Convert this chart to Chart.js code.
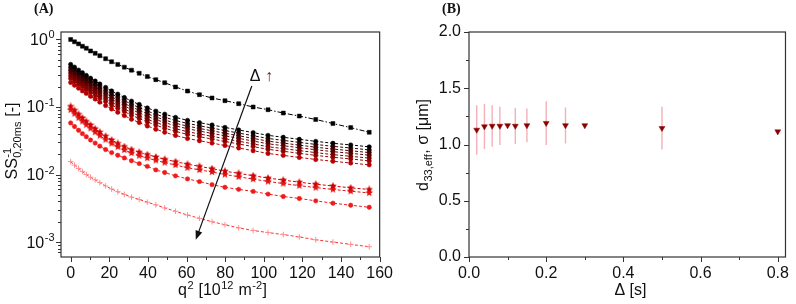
<!DOCTYPE html>
<html>
<head>
<meta charset="utf-8">
<script src="https://cdn.jsdelivr.net/npm/chart.js@4.4.0/dist/chart.umd.min.js"></script>
<style>
  body { margin: 0; background: #fff; }
  #wrap { position: relative; width: 796px; height: 304px; overflow: hidden; }
  canvas { position: absolute; top: 0; }
  #chartA { left: 0; }
  #chartB { left: 400px; }
  .tag { position: absolute; top: 1px; font: bold 14px "Liberation Serif", serif; color: #111; }
</style>
</head>
<body>
<div id="wrap">
  <canvas id="chartA" width="400" height="304"></canvas>
  <canvas id="chartB" width="396" height="304"></canvas>
  <div class="tag" style="left:34px">(A)</div>
  <div class="tag" style="left:442px">(B)</div>
</div>
<script>
// ---- panel A data: q^2 [10^12 m^-2] and normalised signal for each Delta
const qSq = [0, 2, 4.1, 6.1, 8.1, 10.3, 12.7, 15.1, 18.1, 21.2, 24.4, 27.8, 31.5, 35.5, 39.7, 44.1,
  48.7, 54.3, 60.5, 66.7, 73.2, 79.9, 87, 94.5, 102.2, 110.1, 118.4, 126.9, 135.8, 145, 154.6];

const sigRef = [1.0, 0.923, 0.861, 0.794, 0.741, 0.676, 0.624, 0.575, 0.519, 0.468, 0.427, 0.389, 0.351, 0.316, 0.282, 0.254,
  0.229, 0.198, 0.172, 0.152, 0.136, 0.124, 0.112, 0.100, 0.0912, 0.0813, 0.0733, 0.0653, 0.0569, 0.0495, 0.0422];
const grp1 = [0.427, 0.389, 0.352, 0.321, 0.294, 0.267, 0.242, 0.219, 0.195, 0.173, 0.155, 0.138, 0.122, 0.109, 0.0968, 0.0869,
  0.0783, 0.0701, 0.0634, 0.0586, 0.0541, 0.0498, 0.0457, 0.0417, 0.0380, 0.0356, 0.0332, 0.0310, 0.0290, 0.0274, 0.0257];
const grp2 = [0.384, 0.350, 0.317, 0.289, 0.265, 0.240, 0.218, 0.197, 0.176, 0.156, 0.140, 0.124, 0.110, 0.098, 0.0871, 0.0782,
  0.0705, 0.0631, 0.0571, 0.0527, 0.0487, 0.0448, 0.0411, 0.0375, 0.0342, 0.0320, 0.0299, 0.0279, 0.0261, 0.0247, 0.0231];
const grp3 = [0.350, 0.319, 0.289, 0.263, 0.241, 0.219, 0.198, 0.180, 0.160, 0.142, 0.127, 0.113, 0.100, 0.0894, 0.0794, 0.0713,
  0.0642, 0.0575, 0.0520, 0.0481, 0.0444, 0.0408, 0.0375, 0.0342, 0.0312, 0.0292, 0.0272, 0.0254, 0.0238, 0.0225, 0.0211];
const grp4 = [0.320, 0.292, 0.264, 0.241, 0.221, 0.200, 0.182, 0.164, 0.146, 0.130, 0.116, 0.104, 0.0915, 0.0818, 0.0726, 0.0652,
  0.0587, 0.0526, 0.0476, 0.0440, 0.0406, 0.0374, 0.0343, 0.0313, 0.0285, 0.0267, 0.0249, 0.0233, 0.0218, 0.0206, 0.0193];
const grp5 = [0.290, 0.265, 0.239, 0.218, 0.200, 0.182, 0.165, 0.149, 0.133, 0.118, 0.105, 0.0938, 0.0830, 0.0741, 0.0658, 0.0591,
  0.0532, 0.0477, 0.0431, 0.0398, 0.0368, 0.0339, 0.0311, 0.0284, 0.0258, 0.0242, 0.0226, 0.0211, 0.0197, 0.0186, 0.0175];
const grp6 = [0.265, 0.241, 0.218, 0.199, 0.182, 0.166, 0.150, 0.136, 0.121, 0.107, 0.0961, 0.0856, 0.0756, 0.0676, 0.0600, 0.0539,
  0.0485, 0.0435, 0.0393, 0.0363, 0.0335, 0.0309, 0.0283, 0.0259, 0.0236, 0.0221, 0.0206, 0.0192, 0.0180, 0.0170, 0.0159];
const grp7 = [0.231, 0.210, 0.190, 0.173, 0.159, 0.144, 0.131, 0.118, 0.105, 0.0934, 0.0837, 0.0745, 0.0659, 0.0589, 0.0523, 0.0469,
  0.0423, 0.0379, 0.0342, 0.0316, 0.0292, 0.0269, 0.0247, 0.0225, 0.0205, 0.0192, 0.0179, 0.0167, 0.0157, 0.0148, 0.0139];
const starsHi = [0.102, 0.0893, 0.0780, 0.0689, 0.0612, 0.0542, 0.0476, 0.0424, 0.0370, 0.0325, 0.0289, 0.0259, 0.0234, 0.0214, 0.0197, 0.0182,
  0.0168, 0.0155, 0.0142, 0.0132, 0.0122, 0.0112, 0.0104, 0.00959, 0.00887, 0.00826, 0.00769, 0.00719, 0.00675, 0.00635, 0.00600];
const starsLo = [0.0908, 0.0795, 0.0694, 0.0613, 0.0545, 0.0482, 0.0424, 0.0377, 0.0329, 0.0289, 0.0257, 0.0231, 0.0208, 0.0190, 0.0175, 0.0162,
  0.0150, 0.0138, 0.0126, 0.0117, 0.0109, 0.0100, 0.00926, 0.00854, 0.00789, 0.00735, 0.00684, 0.00640, 0.00601, 0.00565, 0.00534];
const dotsRed = [0.0581, 0.0513, 0.0452, 0.0403, 0.0363, 0.0324, 0.0292, 0.0263, 0.0234, 0.0211, 0.0193, 0.0176, 0.0160, 0.0145, 0.0132, 0.0117,
  0.0107, 0.00955, 0.00861, 0.00785, 0.00708, 0.00646, 0.00603, 0.00562, 0.00513, 0.00473, 0.00442, 0.00407, 0.00376, 0.00351, 0.00327];
const crossPink = [0.0155, 0.0138, 0.0123, 0.0111, 0.0100, 0.00912, 0.00832, 0.00759, 0.00676, 0.00610, 0.00556, 0.00507, 0.00462, 0.00427, 0.00389, 0.00355,
  0.00320, 0.00285, 0.00251, 0.00224, 0.00200, 0.00180, 0.00162, 0.00148, 0.00138, 0.00129, 0.00119, 0.00108, 0.00100, 0.000923, 0.000851];

const xTicksA = [0, 20, 40, 60, 80, 100, 120, 140, 160];
const xMinorA = [10, 30, 50, 70, 90, 110, 130, 150];
const yDecades = [1, 0.1, 0.01, 0.001];
const yExps = ['0', '-1', '-2', '-3'];

// arrow annotation (data units)
const arrowFrom = [93.8, 0.204];
const arrowTo = [64.8, 0.00108];
const arrowLabelAt = [92.8, 0.245];

// ---- panel B data
const deltaS = [0.02, 0.04, 0.06, 0.08, 0.1, 0.12, 0.15, 0.2, 0.25, 0.3, 0.5, 0.8];
const d33eff = [1.13, 1.16, 1.165, 1.165, 1.17, 1.165, 1.17, 1.19, 1.17, 1.17, 1.145, 1.115];
const sigmaUm = [0.22, 0.2, 0.185, 0.17, 0, 0.16, 0.15, 0.195, 0.16, 0, 0.19, 0];
const xTicksB = [0, 0.2, 0.4, 0.6, 0.8];
const xMinorB = [0.1, 0.3, 0.5, 0.7];
const yTicksB = [0, 0.5, 1.0, 1.5, 2.0];
const yMinorB = [0.25, 0.75, 1.25, 1.75];

const FAM = '"Liberation Sans", Arial, sans-serif';
const tickFont = { family: 'Liberation Sans', size: 16 };

// rich text with super/subscripts, optionally rotated
function drawRich(ctx, parts, x, y, opt) {
  const big = (opt.big || 16) + 'px ' + FAM;
  const small = (opt.small || 11) + 'px ' + FAM;
  ctx.save();
  ctx.translate(x, y);
  if (opt.rotate) ctx.rotate(-Math.PI / 2);
  ctx.fillStyle = '#111';
  ctx.textAlign = 'left';
  ctx.textBaseline = 'alphabetic';
  let w = 0;
  parts.forEach(p => {
    if (p.t !== undefined) { ctx.font = big; w += ctx.measureText(p.t).width; }
    else {
      ctx.font = small;
      w += Math.max(p.sup ? ctx.measureText(p.sup).width : 0, p.sub ? ctx.measureText(p.sub).width : 0) + 1;
    }
  });
  let u = opt.align === 'right' ? -w : -w / 2;
  parts.forEach(p => {
    if (p.t !== undefined) {
      ctx.font = big;
      ctx.fillText(p.t, u, 0);
      u += ctx.measureText(p.t).width;
    } else {
      ctx.font = small;
      let adv = 0;
      if (p.sup) { ctx.fillText(p.sup, u + 0.5, -6.5); adv = ctx.measureText(p.sup).width; }
      if (p.sub) { ctx.fillText(p.sub, u + 0.5, 4); adv = Math.max(adv, ctx.measureText(p.sub).width); }
      u += adv + 1;
    }
  });
  ctx.restore();
}

// frame + outward tick marks
function drawFrameTicks(chart, xMaj, xMin, yMaj, yMin) {
  const { ctx, chartArea: a } = chart;
  const xs = chart.scales.x, ys = chart.scales.y;
  ctx.save();
  ctx.strokeStyle = '#333';
  ctx.lineWidth = 1.2;
  ctx.strokeRect(a.left, a.top, a.right - a.left, a.bottom - a.top);
  ctx.lineWidth = 1;
  ctx.beginPath();
  const tx = (v, len) => { const p = Math.round(xs.getPixelForValue(v)) + 0.5; ctx.moveTo(p, a.bottom); ctx.lineTo(p, a.bottom + len); };
  const ty = (v, len) => { const p = Math.round(ys.getPixelForValue(v)) + 0.5; ctx.moveTo(a.left, p); ctx.lineTo(a.left - len, p); };
  xMaj.forEach(v => tx(v, 5));
  xMin.forEach(v => tx(v, 3));
  yMaj.forEach(v => ty(v, 5));
  yMin.forEach(v => ty(v, 3));
  ctx.stroke();
  ctx.restore();
}

function makeStar(color, size) {
  const c = document.createElement('canvas');
  c.width = c.height = size;
  const g = c.getContext('2d');
  const R = size / 2, r = R * 0.45;
  g.beginPath();
  for (let k = 0; k < 10; k++) {
    const rad = k % 2 ? r : R;
    const ang = -Math.PI / 2 + k * Math.PI / 5;
    g.lineTo(R + rad * Math.cos(ang), R + rad * Math.sin(ang));
  }
  g.closePath();
  g.fillStyle = color;
  g.fill();
  return c;
}

const toPts = ys => qSq.map((x, i) => ({ x: x, y: ys[i] }));

function series(ys, color, style, radius, dash, lineColor) {
  return {
    data: toPts(ys),
    showLine: true,
    borderColor: lineColor || color,
    backgroundColor: color,
    pointBorderColor: color,
    pointBackgroundColor: color,
    pointStyle: style,
    pointRadius: radius,
    pointBorderWidth: style === 'cross' ? 1 : 0.5,
    borderWidth: 1,
    borderDash: dash,
    fill: false,
    tension: 0
  };
}

const dashed = [3, 2];
const clusterColors = ['#000000', '#2b0000', '#4a0000', '#650000', '#7e0000', '#980000', '#b80000'];
const clusterSets = [grp1, grp2, grp3, grp4, grp5, grp6, grp7].map((ys, i) => series(ys, clusterColors[i], 'circle', 2.2, dashed));

const datasetsA = [
  series(sigRef, '#000000', 'rect', 2.8, [5, 2, 1.5, 2]),
  ...clusterSets,
  series(starsHi, '#cf0000', makeStar('#cf0000', 8), 4, dashed),
  series(starsLo, '#e31212', makeStar('#e31212', 8), 4, dashed),
  series(dotsRed, '#f01a1a', 'circle', 2.2, dashed),
  series(crossPink, '#ff9090', 'cross', 2.8, dashed, '#ff3030')
];

// ---- chart A
const yMinorA = [];
yDecades.forEach(d => { for (let k = 2; k <= 9; k++) if (d * k <= 1.29) yMinorA.push(d * k); });
[7, 8, 9].forEach(k => yMinorA.push(0.0001 * k));

const decoA = {
  id: 'decoA',
  afterDatasetsDraw(chart) {
    const { ctx } = chart;
    const xs = chart.scales.x, ys = chart.scales.y;
    const x0 = xs.getPixelForValue(arrowFrom[0]), y0 = ys.getPixelForValue(arrowFrom[1]);
    const x1 = xs.getPixelForValue(arrowTo[0]), y1 = ys.getPixelForValue(arrowTo[1]);
    const ang = Math.atan2(y1 - y0, x1 - x0);
    ctx.save();
    ctx.strokeStyle = '#111';
    ctx.fillStyle = '#111';
    ctx.lineWidth = 1.2;
    ctx.beginPath();
    ctx.moveTo(x0, y0);
    ctx.lineTo(x1 - 6 * Math.cos(ang), y1 - 6 * Math.sin(ang));
    ctx.stroke();
    ctx.beginPath();
    ctx.moveTo(x1, y1);
    ctx.lineTo(x1 - 9 * Math.cos(ang) + 3.5 * Math.sin(ang), y1 - 9 * Math.sin(ang) - 3.5 * Math.cos(ang));
    ctx.lineTo(x1 - 9 * Math.cos(ang) - 3.5 * Math.sin(ang), y1 - 9 * Math.sin(ang) + 3.5 * Math.cos(ang));
    ctx.closePath();
    ctx.fill();
    const lx = xs.getPixelForValue(arrowLabelAt[0]), ly = ys.getPixelForValue(arrowLabelAt[1]);
    ctx.font = '16px ' + FAM;
    ctx.textBaseline = 'alphabetic';
    ctx.fillText('Δ', lx, ly);
    ctx.fillStyle = '#7a1a14';
    ctx.fillText('↑', lx + ctx.measureText('Δ ').width, ly);
    ctx.restore();
  },
  afterDraw(chart) {
    const { ctx } = chart;
    drawFrameTicks(chart, xTicksA, xMinorA, yDecades, yMinorA);
    const ys = chart.scales.y;
    yDecades.forEach((v, i) => {
      drawRich(ctx, [{ t: '10' }, { sup: yExps[i] }], 55, ys.getPixelForValue(v) + 5.5, { align: 'right', big: 16, small: 11 });
    });
    drawRich(ctx, [{ t: 'SS' }, { sup: '-1', sub: '0,20ms' }, { t: ' [-]' }], 17, 141, { rotate: true });
    drawRich(ctx, [{ t: 'q' }, { sup: '2' }, { t: ' [10' }, { sup: '12' }, { t: ' m' }, { sup: '-2' }, { t: ']' }], 222.5, 295, {});
  }
};

new Chart(document.getElementById('chartA'), {
  type: 'scatter',
  data: { datasets: datasetsA },
  options: {
    responsive: false,
    animation: false,
    layout: { padding: { top: 32, right: 16, left: 0, bottom: 0 } },
    plugins: { legend: { display: false }, tooltip: { enabled: false } },
    scales: {
      x: {
        type: 'linear', min: -5, max: 160,
        grid: { display: false, drawTicks: false },
        border: { display: false },
        afterBuildTicks: s => { s.ticks = xTicksA.map(v => ({ value: v })); },
        afterFit: s => { s.height = 47; },
        ticks: { padding: 7, font: tickFont, color: '#111', maxRotation: 0, autoSkip: false }
      },
      y: {
        type: 'logarithmic', min: 6.3e-4, max: 1.29,
        grid: { display: false, drawTicks: false },
        border: { display: false },
        ticks: { display: false },
        afterFit: s => { s.width = 61; }
      }
    }
  },
  plugins: [decoA]
});

// ---- chart B
const decoB = {
  id: 'decoB',
  beforeDatasetsDraw(chart) {
    const { ctx } = chart;
    const xs = chart.scales.x, ys = chart.scales.y;
    ctx.save();
    ctx.strokeStyle = '#f4b0b8';
    ctx.lineWidth = 1.4;
    ctx.beginPath();
    deltaS.forEach((d, i) => {
      if (!sigmaUm[i]) return;
      const px = xs.getPixelForValue(d);
      ctx.moveTo(px, ys.getPixelForValue(d33eff[i] + sigmaUm[i]));
      ctx.lineTo(px, ys.getPixelForValue(d33eff[i] - sigmaUm[i]));
    });
    ctx.stroke();
    ctx.restore();
  },
  afterDraw(chart) {
    const { ctx } = chart;
    drawFrameTicks(chart, xTicksB, xMinorB, yTicksB, yMinorB);
    drawRich(ctx, [{ t: 'd' }, { sub: '33,eff' }, { t: ', σ [μm]' }], 28, 145, { rotate: true });
    drawRich(ctx, [{ t: 'Δ [s]' }], 230.5, 295, {});
  }
};

new Chart(document.getElementById('chartB'), {
  type: 'scatter',
  data: {
    datasets: [{
      data: deltaS.map((x, i) => ({ x: x, y: d33eff[i] })),
      pointStyle: 'triangle',
      rotation: 180,
      pointRadius: 3.4,
      backgroundColor: '#8b0000',
      borderColor: '#8b0000',
      pointBorderWidth: 0.5
    }]
  },
  options: {
    responsive: false,
    animation: false,
    layout: { padding: { top: 32, right: 4, left: 0, bottom: 0 } },
    plugins: { legend: { display: false }, tooltip: { enabled: false } },
    scales: {
      x: {
        type: 'linear', min: 0, max: 0.82,
        grid: { display: false, drawTicks: false },
        border: { display: false },
        afterBuildTicks: s => { s.ticks = xTicksB.map(v => ({ value: v })); },
        afterFit: s => { s.height = 47; },
        ticks: { padding: 7, font: tickFont, color: '#111', maxRotation: 0, autoSkip: false, callback: v => v.toFixed(1) }
      },
      y: {
        type: 'linear', min: 0, max: 2,
        grid: { display: false, drawTicks: false },
        border: { display: false },
        afterBuildTicks: s => { s.ticks = yTicksB.map(v => ({ value: v })); },
        afterFit: s => { s.width = 69; },
        ticks: { padding: 8, font: tickFont, color: '#111', callback: v => v.toFixed(1) }
      }
    }
  },
  plugins: [decoB]
});
</script>
</body>
</html>
